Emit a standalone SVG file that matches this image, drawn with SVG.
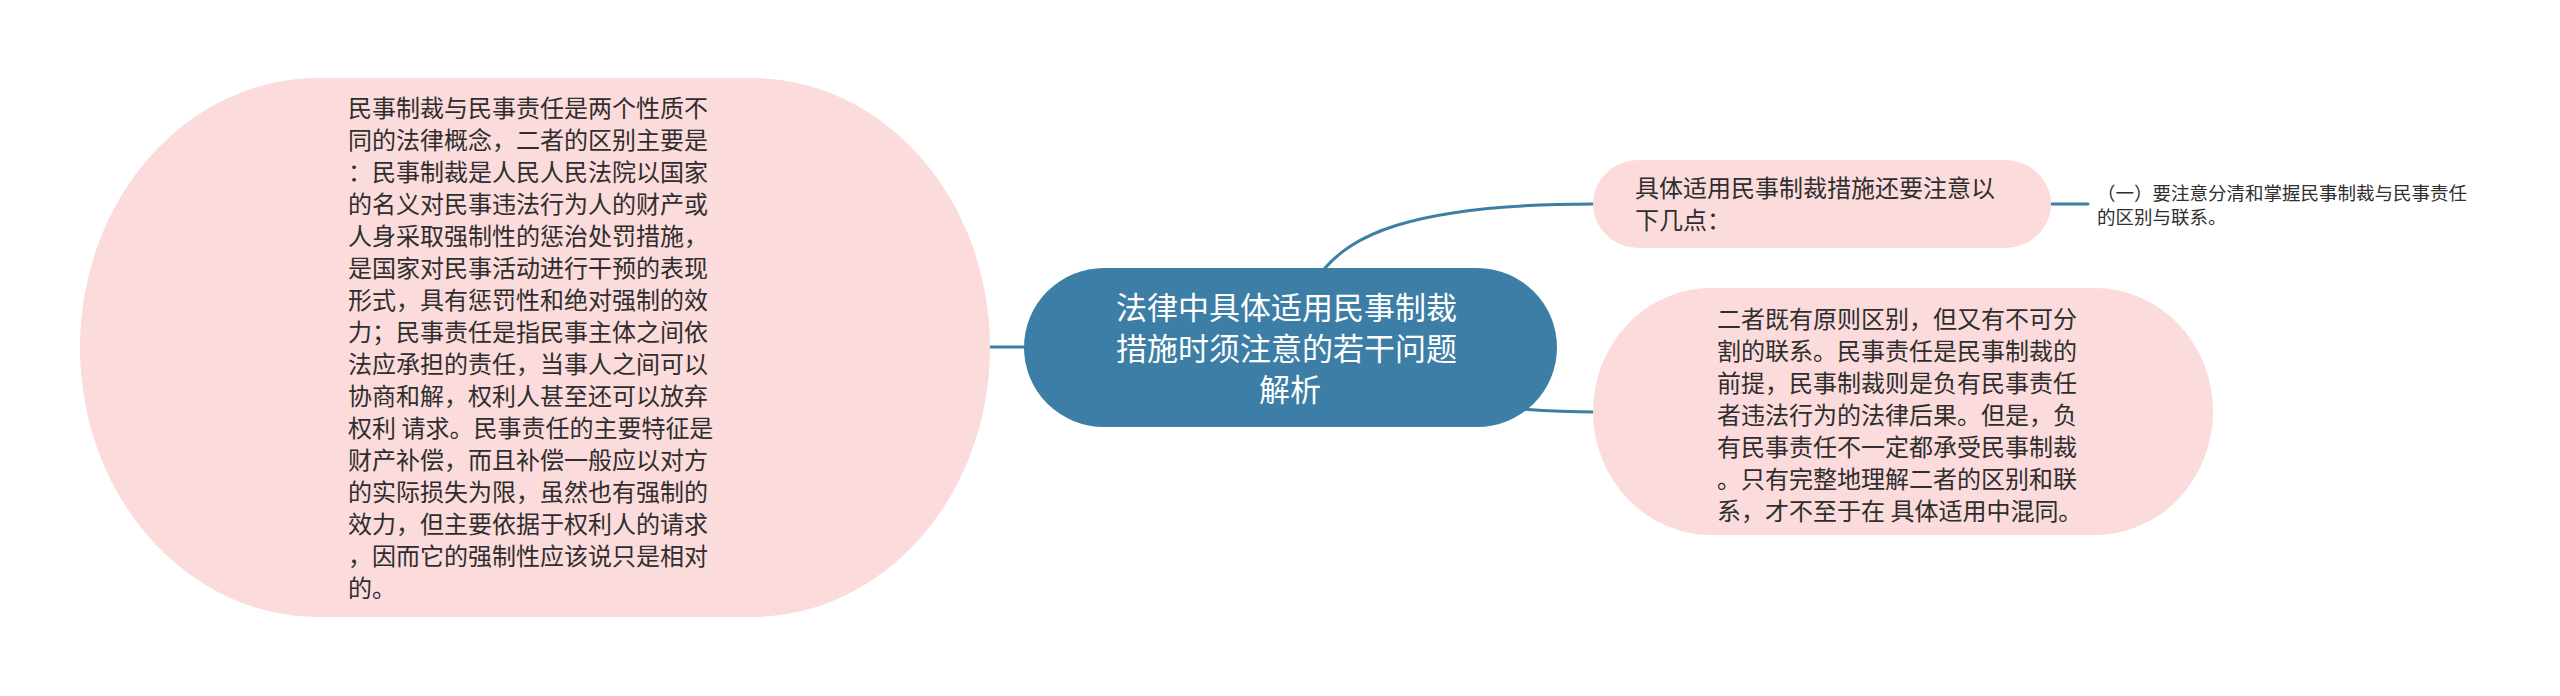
<svg xmlns="http://www.w3.org/2000/svg" width="2560" height="696" viewBox="0 0 2560 696">
<style>
.conn{fill:none;stroke:#3d7ea6;stroke-width:3;stroke-linecap:round}
.pink{fill:#fbdbdb}
.txt{font-family:"Noto Sans CJK SC","Noto Sans",sans-serif;fill:#2e2e2e;font-size:24px}
.main{font-family:"Noto Sans CJK SC","Noto Sans",sans-serif;fill:#ffffff;font-size:31px;text-anchor:middle}
.small{font-family:"Noto Sans CJK SC","Noto Sans",sans-serif;fill:#2e2e2e;font-size:18.5px}
</style>
<rect width="2560" height="696" fill="#ffffff"/>
<g id="connectors">
<path class="conn" d="M990,347 L1030,347"/>
<path class="conn" d="M1325,268 C1350,240 1400,204 1593,204"/>
<path class="conn" d="M1520,409 Q1560,412 1596,412"/>
<path class="conn" d="M2051,204 L2088,204"/>
</g>
<g id="node-left">
<rect class="pink" x="80" y="78" width="910" height="539" rx="238" ry="269.5"/>
<text class="txt" x="348">
<tspan x="348" y="117">民事制裁与民事责任是两个性质不</tspan>
<tspan x="348" y="149">同的法律概念，二者的区别主要是</tspan>
<tspan x="348" y="181">：民事制裁是人民人民法院以国家</tspan>
<tspan x="348" y="213">的名义对民事违法行为人的财产或</tspan>
<tspan x="348" y="245">人身采取强制性的惩治处罚措施，</tspan>
<tspan x="348" y="277">是国家对民事活动进行干预的表现</tspan>
<tspan x="348" y="309">形式，具有惩罚性和绝对强制的效</tspan>
<tspan x="348" y="341">力；民事责任是指民事主体之间依</tspan>
<tspan x="348" y="373">法应承担的责任，当事人之间可以</tspan>
<tspan x="348" y="405">协商和解，权利人甚至还可以放弃</tspan>
<tspan x="348" y="437">权利 请求。民事责任的主要特征是</tspan>
<tspan x="348" y="469">财产补偿，而且补偿一般应以对方</tspan>
<tspan x="348" y="501">的实际损失为限，虽然也有强制的</tspan>
<tspan x="348" y="533">效力，但主要依据于权利人的请求</tspan>
<tspan x="348" y="565">，因而它的强制性应该说只是相对</tspan>
<tspan x="348" y="597">的。</tspan>
</text>
</g>
<g id="node-center">
<rect x="1024" y="268" width="533" height="159" rx="80" ry="79.5" fill="#3d7ea6"/>
<text class="main">
<tspan x="1290" y="319">法律中具体适用民事制裁</tspan>
<tspan x="1290" y="360">措施时须注意的若干问题</tspan>
<tspan x="1290" y="401">解析</tspan>
</text>
</g>
<g id="node-top-right">
<rect class="pink" x="1593" y="160" width="458" height="88" rx="46" ry="44"/>
<text class="txt">
<tspan x="1635" y="197">具体适用民事制裁措施还要注意以</tspan>
<tspan x="1635" y="229">下几点：</tspan>
</text>
</g>
<g id="node-far-right">
<text class="small">
<tspan x="2097" y="200">（一）要注意分清和掌握民事制裁与民事责任</tspan>
<tspan x="2097" y="224">的区别与联系。</tspan>
</text>
</g>
<g id="node-bottom-right">
<rect class="pink" x="1593" y="288" width="620" height="247" rx="118" ry="123.5"/>
<text class="txt">
<tspan x="1717" y="328">二者既有原则区别，但又有不可分</tspan>
<tspan x="1717" y="360">割的联系。民事责任是民事制裁的</tspan>
<tspan x="1717" y="392">前提，民事制裁则是负有民事责任</tspan>
<tspan x="1717" y="424">者违法行为的法律后果。但是，负</tspan>
<tspan x="1717" y="456">有民事责任不一定都承受民事制裁</tspan>
<tspan x="1717" y="488">。只有完整地理解二者的区别和联</tspan>
<tspan x="1717" y="520">系，才不至于在 具体适用中混同。</tspan>
</text>
</g>
</svg>
